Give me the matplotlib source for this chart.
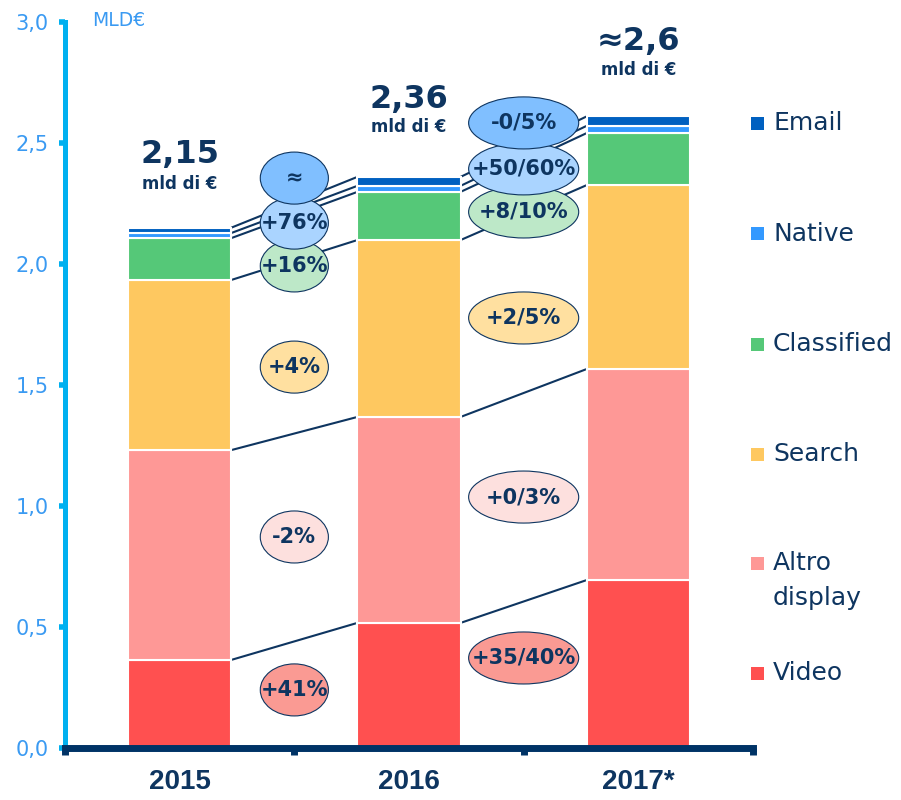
import numpy as np
import matplotlib.pyplot as plt
from matplotlib.patches import Ellipse, Rectangle

# dati (mld di euro)
years = ["2015", "2016", "2017*"]
segments = ["Video", "Altro display", "Search", "Classified", "Native", "Email"]
video = [0.364, 0.517, 0.694]
altro_display = [0.867, 0.851, 0.872]
search = [0.703, 0.731, 0.760]
classified = [0.173, 0.199, 0.215]
native = [0.021, 0.025, 0.030]
email = [0.022, 0.037, 0.039]
totals_text = ["2,15", "2,36", "≈2,6"]

# variazioni tra gli anni (etichette negli ovali), ordine = segments
growth_15_16 = ["+41%", "-2%", "+4%", "+16%", "+76%", "≈"]
growth_16_17 = ["+35/40%", "+0/3%", "+2/5%", "+8/10%", "+50/60%", "-0/5%"]
growth_y_15_16 = [0.240, 0.872, 1.574, 1.992, 2.169, 2.355]
growth_y_16_17 = [0.372, 1.037, 1.777, 2.215, 2.393, 2.583]

yticks = [0.0, 0.5, 1.0, 1.5, 2.0, 2.5, 3.0]
ytick_labels = ["0,0", "0,5", "1,0", "1,5", "2,0", "2,5", "3,0"]

colors = ["#ff5050", "#fe9896", "#fec860", "#55c878", "#3399ff", "#0060c0"]
oval_colors = ["#fa9a93", "#fde0de", "#ffe0a0", "#bde8c8", "#aad4ff", "#80bfff"]
navy = "#0e3560"
light_blue = "#3a9af2"

data = np.array([video, altro_display, search, classified, native, email])
cum = np.cumsum(data, axis=0)
bottoms = np.vstack([np.zeros(3), cum[:-1]])

fig = plt.figure(figsize=(9.01, 8.0), dpi=100)
ax = fig.add_axes([65 / 901, 52 / 800, 688 / 901, 726 / 800])

x = np.arange(len(years))
bw = 0.45
for k in range(len(segments)):
    ax.bar(x, data[k], bw, bottom=bottoms[k], color=colors[k],
           edgecolor="white", linewidth=1.5, zorder=2)

# linee di collegamento tra le barre
for k in range(len(segments)):
    for i in range(len(years) - 1):
        ax.plot([x[i] + bw / 2, x[i + 1] - bw / 2], [cum[k, i], cum[k, i + 1]],
                color=navy, lw=1.5, zorder=1, solid_capstyle="butt")

# ovali con le variazioni
for labels, ys, xc, w in [(growth_15_16, growth_y_15_16, 0.5, 0.297),
                          (growth_16_17, growth_y_16_17, 1.5, 0.48)]:
    for k in range(len(segments)):
        e = Ellipse((xc, ys[k]), w, 0.215, facecolor=oval_colors[k],
                    edgecolor=navy, lw=0.8, zorder=3)
        ax.add_patch(e)
        ax.text(xc, ys[k], labels[k], ha="center", va="center", fontsize=15,
                fontweight="bold", color=navy, zorder=4)

# totali
tot_y = [(2.417, 2.31), (2.645, 2.545), (2.884, 2.78)]
for i in range(len(years)):
    ax.text(x[i], tot_y[i][0], totals_text[i], ha="center", va="baseline",
            fontsize=23, fontweight="bold", color=navy)
    ax.text(x[i], tot_y[i][1], "mld di €", ha="center", va="baseline",
            fontsize=12, fontweight="bold", color=navy)

ax.set_xlim(-0.5, 2.5)
ax.set_ylim(0, 3.0)
for s in ["top", "right"]:
    ax.spines[s].set_visible(False)
ax.spines["left"].set_color("#00b0f0")
ax.spines["left"].set_linewidth(3.6)
ax.spines["bottom"].set_color("#003366")
ax.spines["bottom"].set_linewidth(5)
ax.spines["bottom"].set_zorder(5)

ax.set_yticks(yticks)
ax.set_yticklabels(ytick_labels)
ax.tick_params(axis="y", colors="#00b0f0", length=4, width=4, pad=8,
               labelsize=15, labelcolor=light_blue)

ax.set_xticks(x)
ax.set_xticklabels(years, fontfamily="Liberation Sans", fontweight="bold",
                   fontsize=20, color=navy)
ax.set_xticks([-0.5, 0.5, 1.5, 2.5], minor=True)
ax.tick_params(axis="x", which="major", length=0, pad=15)
ax.tick_params(axis="x", which="minor", length=5, width=5, color="#003366")

fig.text(92 / 901, 1 - 21 / 800, "MLD€", fontsize=13.5, color=light_blue,
         ha="left", va="center")

# legenda manuale
leg_items = [("Email", 123, [123]), ("Native", 234, [234]),
             ("Classified", 344, [344]), ("Search", 454, [454]),
             ("Altro\ndisplay", 563, [563, 598]), ("Video", 673, [673])]
leg_colors = colors[::-1]
for (lab, ysq, lines), c in zip(leg_items, leg_colors):
    fig.patches.append(Rectangle((751 / 901, 1 - (ysq + 6.5) / 800), 13 / 901, 13 / 800,
                                 transform=fig.transFigure, facecolor=c,
                                 edgecolor="none"))
    for j, line in enumerate(lab.split("\n")):
        fig.text(773 / 901, 1 - lines[j] / 800, line, fontsize=18, color=navy,
                 ha="left", va="center")

fig.savefig("out.png", dpi=100)
